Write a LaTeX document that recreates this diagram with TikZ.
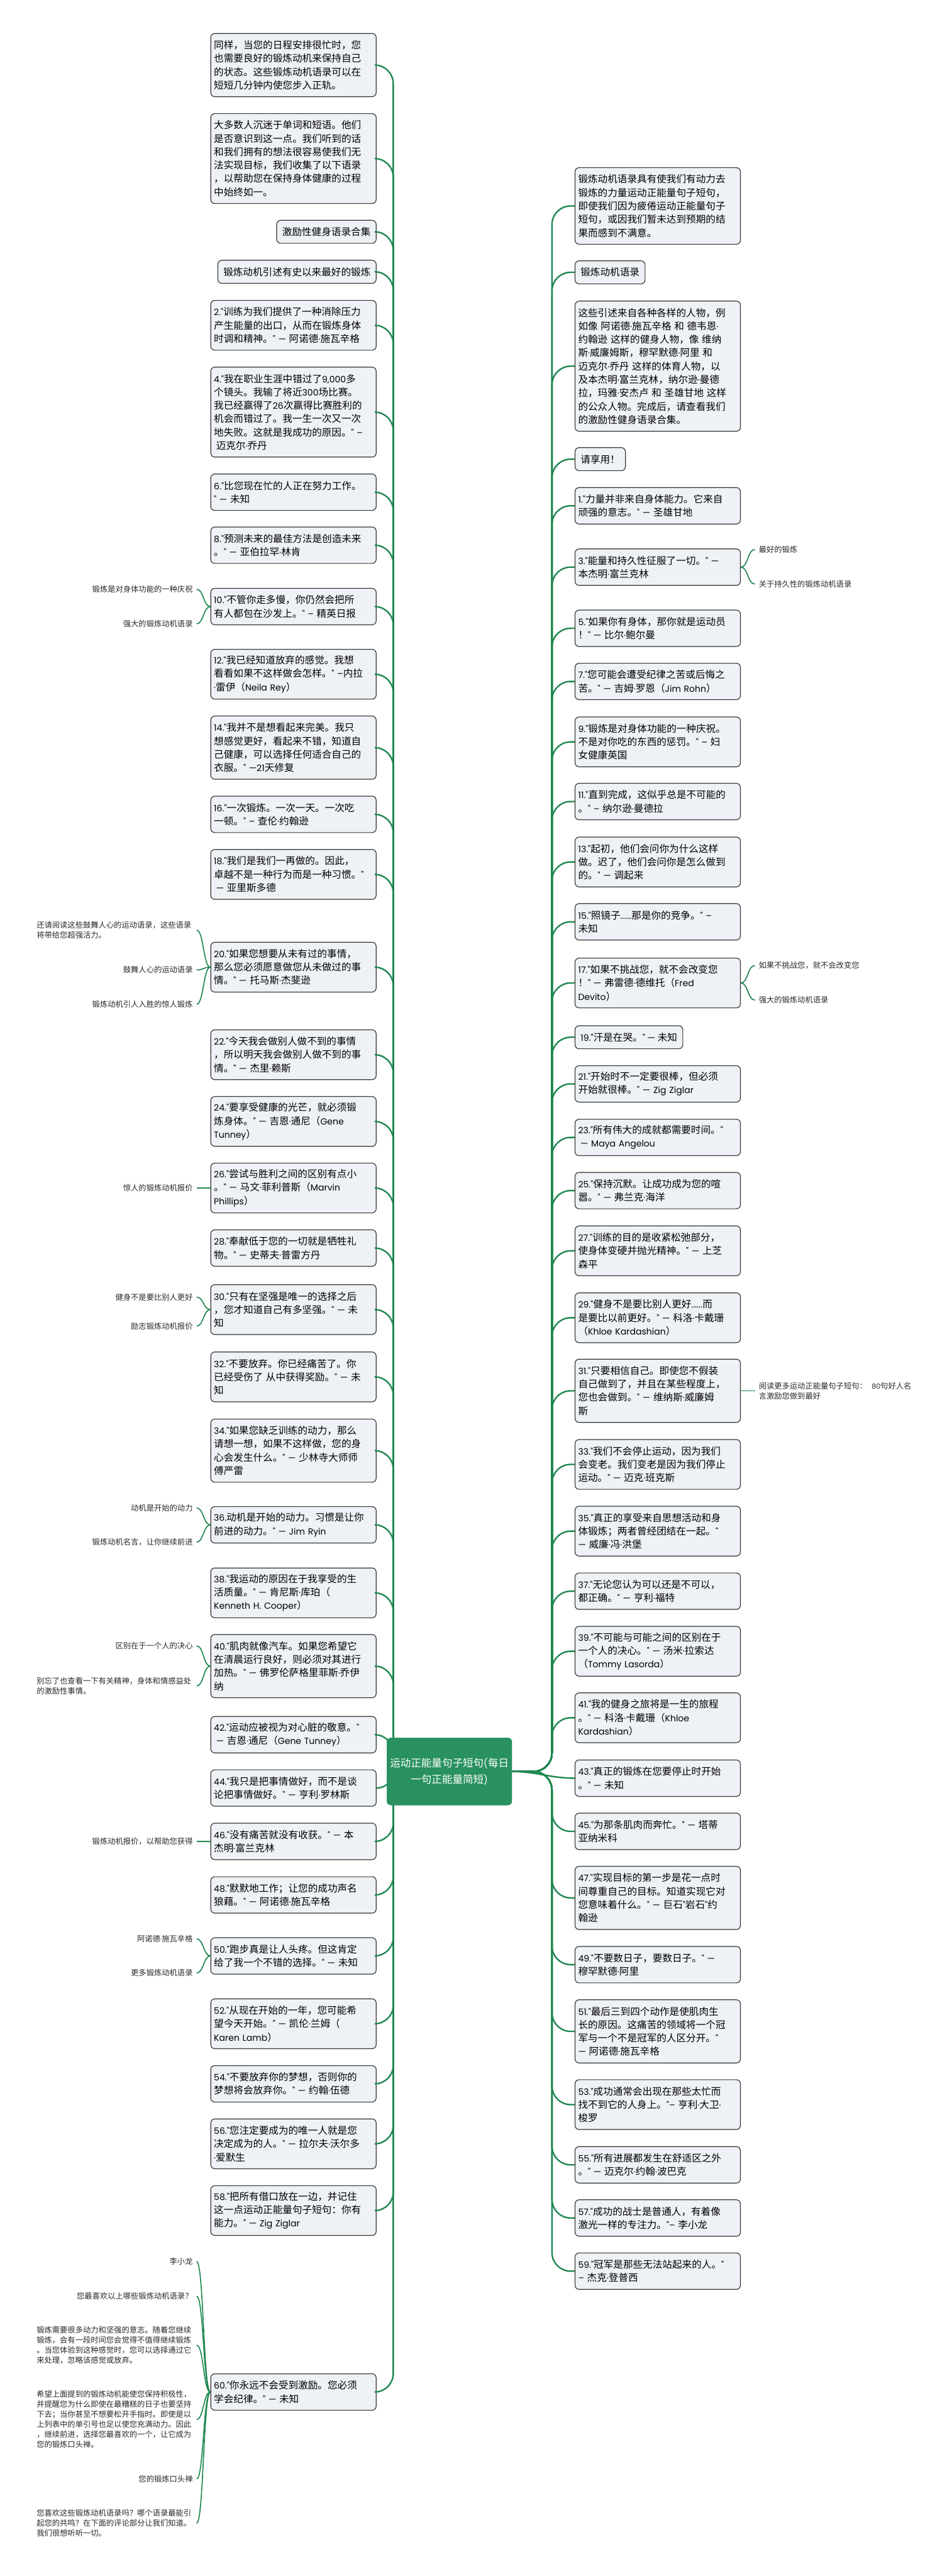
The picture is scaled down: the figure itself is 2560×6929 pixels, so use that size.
\documentclass[tikz,border=0pt]{standalone}
\usepackage{fontspec}
\setmainfont[Scale=0.9]{Poppins}
\newfontfamily\cjkfont{Noto Sans CJK SC}
\newfontfamily\latfont[Scale=0.9]{Poppins}
\XeTeXinterchartokenstate=1
\newXeTeXintercharclass\cjkcls
\newcount\cjkc
\def\setcjkrange#1#2{\cjkc=#1\relax\loop\XeTeXcharclass\cjkc=\cjkcls\ifnum\cjkc<#2\advance\cjkc by 1\repeat}
\setcjkrange{"3000}{"303F}
\setcjkrange{"4E00}{"9FFF}
\setcjkrange{"FF00}{"FFEF}
\XeTeXinterchartoks 0 \cjkcls = {\cjkfont}
\XeTeXinterchartoks 4095 \cjkcls = {\cjkfont}
\XeTeXinterchartoks \cjkcls 0 = {\latfont}
\XeTeXinterchartoks 4095 0 = {\latfont}
\definecolor{boxfill}{RGB}{238,241,245}
\definecolor{boxline}{RGB}{55,55,55}
\definecolor{conn}{RGB}{30,135,80}
\definecolor{ctrfill}{RGB}{40,145,95}
\definecolor{ftxt}{RGB}{40,40,40}
\newcommand\boxfont{\fontsize{13.2pt}{18pt}\selectfont}
\newcommand\smallfont{\fontsize{10.4pt}{13.5pt}\selectfont}
\newcommand\ctrfont{\fontsize{14pt}{22pt}\selectfont}
\tikzset{
  box/.style={draw=boxline, fill=boxfill, line width=1pt, rounded corners=5.5pt, font=\boxfont, align=left, inner ysep=0pt, text=black},
  lfull/.style={box, anchor=east, text width=214pt, inner xsep=4.25pt},
  rfull/.style={box, anchor=west, text width=214pt, inner xsep=4.25pt},
  lshort/.style={box, anchor=east, inner xsep=7.5pt},
  rshort/.style={box, anchor=west, inner xsep=7.5pt},
  n1/.style={minimum height=31pt},
  n2/.style={minimum height=49pt},
  n3/.style={minimum height=67pt},
  n4/.style={minimum height=85pt},
  n5/.style={minimum height=103pt},
  n6/.style={minimum height=121pt},
  n9/.style={minimum height=175pt},
  ftext/.style={font=\smallfont, inner xsep=5pt, inner ysep=1pt, text=ftxt},
  fl/.style={ftext, anchor=east, align=right},
  flp/.style={ftext, anchor=east, align=left, text width=210pt},
  fr/.style={ftext, anchor=west, align=left},
  frp/.style={ftext, anchor=west, align=left, text width=210pt},
  mconn/.style={draw=conn, line width=2pt, rounded corners=25pt},
  sconn/.style={draw=conn, line width=1.4pt},
  ctrbox/.style={fill=ctrfill, draw=ctrfill, rounded corners=5pt, text=white, font=\ctrfont, align=center, minimum width=166pt, minimum height=90pt, inner sep=4pt}
}
\begin{document}
\begin{tikzpicture}[x=0.5pt,y=-0.5pt]
\fill[white] (0,0) rectangle (2560,6929);
\useasboundingbox (0,0) rectangle (2560,6929);

\coordinate (lt) at (1058,4765);
\coordinate (rt) at (1485,4765);

% ---------------- left boxes ----------------
\node[lfull,n4] (L1) at (1013,175) {同样，当您的日程安排很忙时，您\\也需要良好的锻炼动机来保持自己\\的状态。这些锻炼动机语录可以在\\短短几分钟内使您步入正轨。};
\node[lfull,n6] (L2) at (1013,426.5) {大多数人沉迷于单词和短语。他们\\是否意识到这一点。我们听到的话\\和我们拥有的想法很容易使我们无\\法实现目标，我们收集了以下语录\\，以帮助您在保持身体健康的过程\\中始终如一。};
\node[lshort,n1] (L3) at (1013,623.5) {激励性健身语录合集};
\node[lshort,n1] (L4) at (1013,731) {锻炼动机引述有史以来最好的锻炼};
\node[lfull,n3] (L5) at (1013,875) {2."训练为我们提供了一种消除压力\\产生能量的出口，从而在锻炼身体\\时调和精神。"~—~阿诺德·施瓦辛格};
\node[lfull,n6] (L6) at (1013,1108.5) {4."我在职业生涯中错过了9,000多\\个镜头。我输了将近300场比赛。\\我已经赢得了26次赢得比赛胜利的\\机会而错过了。我一生一次又一次\\地失败。这就是我成功的原因。"~–\\\hspace*{3pt}迈克尔·乔丹};
\node[lfull,n2] (L7) at (1013,1324) {6."比您现在忙的人正在努力工作。\\"~—~未知};
\node[lfull,n2] (L8) at (1013,1466.5) {8."预测未来的最佳方法是创造未来\\。"~—~亚伯拉罕·林肯};
\node[lfull,n2] (L9) at (1013,1631.5) {10."不管你走多慢，你仍然会把所\\有人都包在沙发上。"~–~精英日报};
\node[lfull,n3] (L10) at (1013,1813.5) {12."我已经知道放弃的感觉。我想\\看看如果不这样做会怎样。"~–内拉\\·雷伊（Neila~Rey）};
\node[lfull,n4] (L11) at (1013,2011) {14."我并不是想看起来完美。我只\\想感觉更好，看起来不错，知道自\\己健康，可以选择任何适合自己的\\衣服。"~—21天修复};
\node[lfull,n2] (L12) at (1013,2190.5) {16."一次锻炼。一次一天。一次吃\\一顿。"~–~查伦·约翰逊};
\node[lfull,n3] (L13) at (1013,2352) {18."我们是我们一再做的。因此，\\卓越不是一种行为而是一种习惯。"\\\hspace*{3pt}—~亚里斯多德};
\node[lfull,n3] (L14) at (1013,2601.5) {20."如果您想要从未有过的事情，\\那么您必须愿意做您从未做过的事\\情。"~—~托马斯·杰斐逊};
\node[lfull,n3] (L15) at (1013,2837) {22."今天我会做别人做不到的事情\\，所以明天我会做别人做不到的事\\情。"~—~杰里·赖斯};
\node[lfull,n3] (L16) at (1013,3016.5) {24."要享受健康的光芒，就必须锻\\炼身体。"~—~吉恩·通尼（Gene\\Tunney）};
\node[lfull,n3] (L17) at (1013,3195.5) {26."尝试与胜利之间的区别有点小\\。"~—~马文·菲利普斯（Marvin\\Phillips）};
\node[lfull,n2] (L18) at (1013,3357) {28."奉献低于您的一切就是牺牲礼\\物。"~—~史蒂夫·普雷方丹};
\node[lfull,n3] (L19) at (1013,3522.5) {30."只有在坚强是唯一的选择之后\\，您才知道自己有多坚强。"~—~未\\知};
\node[lfull,n3] (L20) at (1013,3703.5) {32."不要放弃。你已经痛苦了。你\\已经受伤了~从中获得奖励。"~—~未\\知};
\node[lfull,n4] (L21) at (1013,3902) {34."如果您缺乏训练的动力，那么\\请想一想，如果不这样做，您的身\\心会发生什么。"~—~少林寺大师师\\傅严雷};
\node[lfull,n2] (L22) at (1013,4101.5) {36.动机是开始的动力。习惯是让你\\前进的动力。"~—~Jim~Ryin};
\node[lfull,n3] (L23) at (1013,4284.5) {38."我运动的原因在于我享受的生\\活质量。"~—~肯尼斯·库珀（\\Kenneth~H.~Cooper）};
\node[lfull,n4] (L24) at (1013,4481.5) {40."肌肉就像汽车。如果您希望它\\在清晨运行良好，则必须对其进行\\加热。"~—~佛罗伦萨格里菲斯·乔伊\\纳};
\node[lfull,n2] (L25) at (1013,4666) {42."运动应被视为对心脏的敬意。"\\\hspace*{3pt}—~吉恩·通尼（Gene~Tunney）};
\node[lfull,n2] (L26) at (1013,4809.5) {44."我只是把事情做好，而不是谈\\论把事情做好。"~—~亨利·罗林斯};
\node[lfull,n2] (L27) at (1013,4953) {46."没有痛苦就没有收获。"~—~本\\杰明·富兰克林};
\node[lfull,n2] (L28) at (1013,5097) {48."默默地工作；让您的成功声名\\狼藉。"~—~阿诺德·施瓦辛格};
\node[lfull,n2] (L29) at (1013,5261) {50."跑步真是让人头疼。但这肯定\\给了我一个不错的选择。"~—~未知};
\node[lfull,n3] (L30) at (1013,5443.5) {52."从现在开始的一年，您可能希\\望今天开始。"~—~凯伦·兰姆（\\Karen~Lamb）};
\node[lfull,n2] (L31) at (1013,5605) {54."不要放弃你的梦想，否则你的\\梦想将会放弃你。"~—~约翰·伍德};
\node[lfull,n3] (L32) at (1013,5766.5) {56."您注定要成为的唯一人就是您\\决定成为的人。"~—~拉尔夫·沃尔多\\·爱默生};
\node[lfull,n3] (L33) at (1013,5946) {58."把所有借口放在一边，并记住\\这一点运动正能量句子短句：你有\\能力。"~—~Zig~Ziglar};
\node[lfull,n2] (L34) at (1013,6434) {60."你永远不会受到激励。您必须\\学会纪律。"~—~未知};

% ---------------- right boxes ----------------
\node[rfull,n5] (R1) at (1546,554) {锻炼动机语录具有使我们有动力去\\锻炼的力量运动正能量句子短句，\\即使我们因为疲倦运动正能量句子\\短句，或因我们暂未达到预期的结\\果而感到不满意。};
\node[rshort,n1] (R2) at (1546,732.5) {锻炼动机语录};
\node[rfull,n9] (R3) at (1546,985) {这些引述来自各种各样的人物，例\\如像~阿诺德·施瓦辛格~和~德韦恩·\\约翰逊~这样的健身人物，像~维纳\\斯·威廉姆斯，穆罕默德·阿里~和\\迈克尔·乔丹~这样的体育人物，以\\及本杰明·富兰克林，纳尔逊·曼德\\拉，玛雅·安杰卢~和~圣雄甘地~这样\\的公众人物。完成后，请查看我们\\的激励性健身语录合集。};
\node[rshort,n1] (R4) at (1546,1235) {请享用！};
\node[rfull,n2] (R5) at (1546,1360.5) {1."力量并非来自身体能力。它来自\\顽强的意志。"~—~圣雄甘地};
\node[rfull,n2] (R6) at (1546,1525.5) {3."能量和持久性征服了一切。"~—\\本杰明·富兰克林};
\node[rfull,n2] (R7) at (1546,1690) {5."如果你有身体，那你就是运动员\\！"~—~比尔·鲍尔曼};
\node[rfull,n2] (R8) at (1546,1833) {7."您可能会遭受纪律之苦或后悔之\\苦。"~—~吉姆·罗恩（Jim~Rohn）};
\node[rfull,n3] (R9) at (1546,1995.5) {9."锻炼是对身体功能的一种庆祝。\\不是对你吃的东西的惩罚。"~–~妇\\女健康英国};
\node[rfull,n2] (R10) at (1546,2156) {11."直到完成，这似乎总是不可能的\\。"~–~纳尔逊·曼德拉};
\node[rfull,n3] (R11) at (1546,2318.5) {13."起初，他们会问你为什么这样\\做。迟了，他们会问你是怎么做到\\的。"~—~调起来};
\node[rfull,n2] (R12) at (1546,2479.5) {15."照镜子......那是你的竞争。"~–\\未知};
\node[rfull,n3] (R13) at (1546,2644) {17."如果不挑战您，就不会改变您\\！"~—~弗雷德·德维托（Fred\\Devito）};
\node[rshort,n1] (R14) at (1546,2790) {19."汗是在哭。"~—~未知};
\node[rfull,n2] (R15) at (1546,2915.5) {21."开始时不一定要很棒，但必须\\开始就很棒。"~—~Zig~Ziglar};
\node[rfull,n2] (R16) at (1546,3059.5) {23."所有伟大的成就都需要时间。"\\\hspace*{3pt}—~Maya~Angelou};
\node[rfull,n2] (R17) at (1546,3202.5) {25."保持沉默。让成功成为您的喧\\嚣。"~—~弗兰克·海洋};
\node[rfull,n3] (R18) at (1546,3364.5) {27."训练的目的是收紧松弛部分，\\使身体变硬并抛光精神。"~—~上芝\\森平};
\node[rfull,n3] (R19) at (1546,3544.5) {29."健身不是要比别人更好......而\\是要比以前更好。"~—~科洛·卡戴珊\\（Khloe~Kardashian）};
\node[rfull,n4] (R20) at (1546,3741) {31."只要相信自己。即使您不假装\\自己做到了，并且在某些程度上，\\您也会做到。"~—~维纳斯·威廉姆\\斯};
\node[rfull,n3] (R21) at (1546,3939) {33."我们不会停止运动，因为我们\\会变老。我们变老是因为我们停止\\运动。"~—~迈克·班克斯};
\node[rfull,n3] (R22) at (1546,4118.5) {35."真正的享受来自思想活动和身\\体锻炼；两者曾经团结在一起。"\\—~威廉·冯·洪堡};
\node[rfull,n2] (R23) at (1546,4280) {37."无论您认为可以还是不可以，\\都正确。"~—~亨利·福特};
\node[rfull,n3] (R24) at (1546,4441.5) {39."不可能与可能之间的区别在于\\一个人的决心。"~—~汤米·拉索达\\（Tommy~Lasorda）};
\node[rfull,n3] (R25) at (1546,4620.5) {41."我的健身之旅将是一生的旅程\\。"~—~科洛·卡戴珊（Khloe\\Kardashian）};
\node[rfull,n2] (R26) at (1546,4783) {43."真正的锻炼在您要停止时开始\\。"~—~未知};
\node[rfull,n2] (R27) at (1546,4926) {45."为那条肌肉而奔忙。"~—~塔蒂\\亚纳米科};
\node[rfull,n4] (R28) at (1546,5105) {47."实现目标的第一步是花一点时\\间尊重自己的目标。知道实现它对\\您意味着什么。"~—~巨石"岩石"约\\翰逊};
\node[rfull,n2] (R29) at (1546,5284.5) {49."不要数日子，要数日子。"~—\\穆罕默德·阿里};
\node[rfull,n4] (R30) at (1546,5464) {51."最后三到四个动作是使肌肉生\\长的原因。这痛苦的领域将一个冠\\军与一个不是冠军的人区分开。"\\—~阿诺德·施瓦辛格};
\node[rfull,n3] (R31) at (1546,5661) {53."成功通常会出现在那些太忙而\\找不到它的人身上。"–~亨利·大卫·\\梭罗};
\node[rfull,n2] (R32) at (1546,5823) {55."所有进展都发生在舒适区之外\\。"~—~迈克尔·约翰·波巴克};
\node[rfull,n2] (R33) at (1546,5966) {57."成功的战士是普通人，有着像\\激光一样的专注力。"–~李小龙};
\node[rfull,n2] (R34) at (1546,6109) {59."冠军是那些无法站起来的人。"\\–~杰克·登普西};

% ---------------- far-left texts ----------------
\node[fl] (a1) at (529,1585) {锻炼是对身体功能的一种庆祝};
\node[fl] (a2) at (529,1678) {强大的锻炼动机语录};
\node[flp] (b1) at (529,2502) {还请阅读这些鼓舞人心的运动语录，这些语录\\将带给您超强活力。};
\node[fl] (b2) at (529,2609) {鼓舞人心的运动语录};
\node[fl] (b3) at (529,2701) {锻炼动机引人入胜的惊人锻炼};
\node[fl] (c1) at (529,3195.5) {惊人的锻炼动机报价};
\node[fl] (d1) at (529,3489) {健身不是要比别人更好};
\node[fl] (d2) at (529,3567) {励志锻炼动机报价};
\node[fl] (e1) at (529,4056) {动机是开始的动力};
\node[fl] (e2) at (529,4148) {锻炼动机名言，让你继续前进};
\node[fl] (f1) at (529,4427) {区别在于一个人的决心};
\node[flp] (f2) at (529,4535) {别忘了也查看一下有关精神，身体和情感益处\\的激励性事情。};
\node[fl] (g1) at (529,4953) {锻炼动机报价，以帮助您获得};
\node[fl] (h1) at (529,5215) {阿诺德·施瓦辛格};
\node[fl] (h2) at (529,5307) {更多锻炼动机语录};
\node[fl] (k1) at (529,6083) {李小龙};
\node[fl] (k2) at (529,6176) {您最喜欢以上哪些锻炼动机语录？};
\node[flp] (k3) at (529,6308) {锻炼需要很多动力和坚强的意志。随着您继续\\锻炼，会有一段时间您会觉得不值得继续锻炼\\。当您体验到这种感觉时，您可以选择通过它\\来处理，忽略该感觉或放弃。};
\node[flp] (k4) at (529,6508) {希望上面提到的锻炼动机能使您保持积极性，\\并提醒您为什么即使在最糟糕的日子也要坚持\\下去；当你甚至不想要松开手指时。即使是以\\上列表中的单引号也足以使您充满动力。因此\\，继续前进，选择您最喜欢的一个，让它成为\\您的锻炼口头禅。};
\node[fl] (k5) at (529,6668) {您的锻炼口头禅};
\node[flp] (k6) at (529,6787) {您喜欢这些锻炼动机语录吗？哪个语录最能引\\起您的共鸣？在下面的评论部分让我们知道。\\我们很想听听一切。};

% ---------------- far-right texts ----------------
\node[fr] (p1) at (2031,1478) {最好的锻炼};
\node[fr] (p2) at (2031,1571) {关于持久性的锻炼动机语录};
\node[fr] (q1) at (2031,2597) {如果不挑战您，就不会改变您};
\node[fr] (q2) at (2031,2690) {强大的锻炼动机语录};
\node[frp] (s1) at (2031,3741) {阅读更多运动正能量句子短句：~~80句好人名\\言激励您做到最好};

% ---------------- main connectors ----------------
\foreach \n in {L1,L2,L3,L4,L5,L6,L7,L8,L9,L10,L11,L12,L13,L14,L15,L16,L17,L18,L19,L20,L21,L22,L23,L24,L25,L27,L28,L29,L30,L31,L32,L33,L34}
  \draw[mconn] (\n.east) -| (lt);
\draw[mconn] (L26.east) to[out=0,in=-90] (lt);

% ---------------- center ----------------
\node[ctrbox] (ctr) at (1209,4765) {运动正能量句子短句(每日\\一句正能量简短)};

\foreach \n in {R1,R2,R3,R4,R5,R6,R7,R8,R9,R10,R11,R12,R13,R14,R15,R16,R17,R18,R19,R20,R21,R22,R23,R24,R25,R27,R28,R29,R30,R31,R32,R33,R34}
  \draw[mconn] (ctr.east) -- (rt) |- (\n.west);
\draw[mconn] (ctr.east) to[out=0,in=180] (R26.west);

% ---------------- sub connectors ----------------
\foreach \p/\c in {L9/a1,L9/a2,L14/b1,L14/b2,L14/b3,L17/c1,L19/d1,L19/d2,L22/e1,L22/e2,L24/f1,L24/f2,L27/g1,L29/h1,L29/h2,L34/k1,L34/k2,L34/k3,L34/k4,L34/k5,L34/k6}
  \draw[sconn] (\p.west) .. controls +(-19,0) and +(19,0) .. (\c.east);
\foreach \p/\c in {R6/p1,R6/p2,R13/q1,R13/q2,R20/s1}
  \draw[sconn] (\p.east) .. controls +(20,0) and +(-20,0) .. (\c.west);

% redraw center on top of left connectors
\node[ctrbox] at (1209,4765) {运动正能量句子短句(每日\\一句正能量简短)};
\end{tikzpicture}
\end{document}
